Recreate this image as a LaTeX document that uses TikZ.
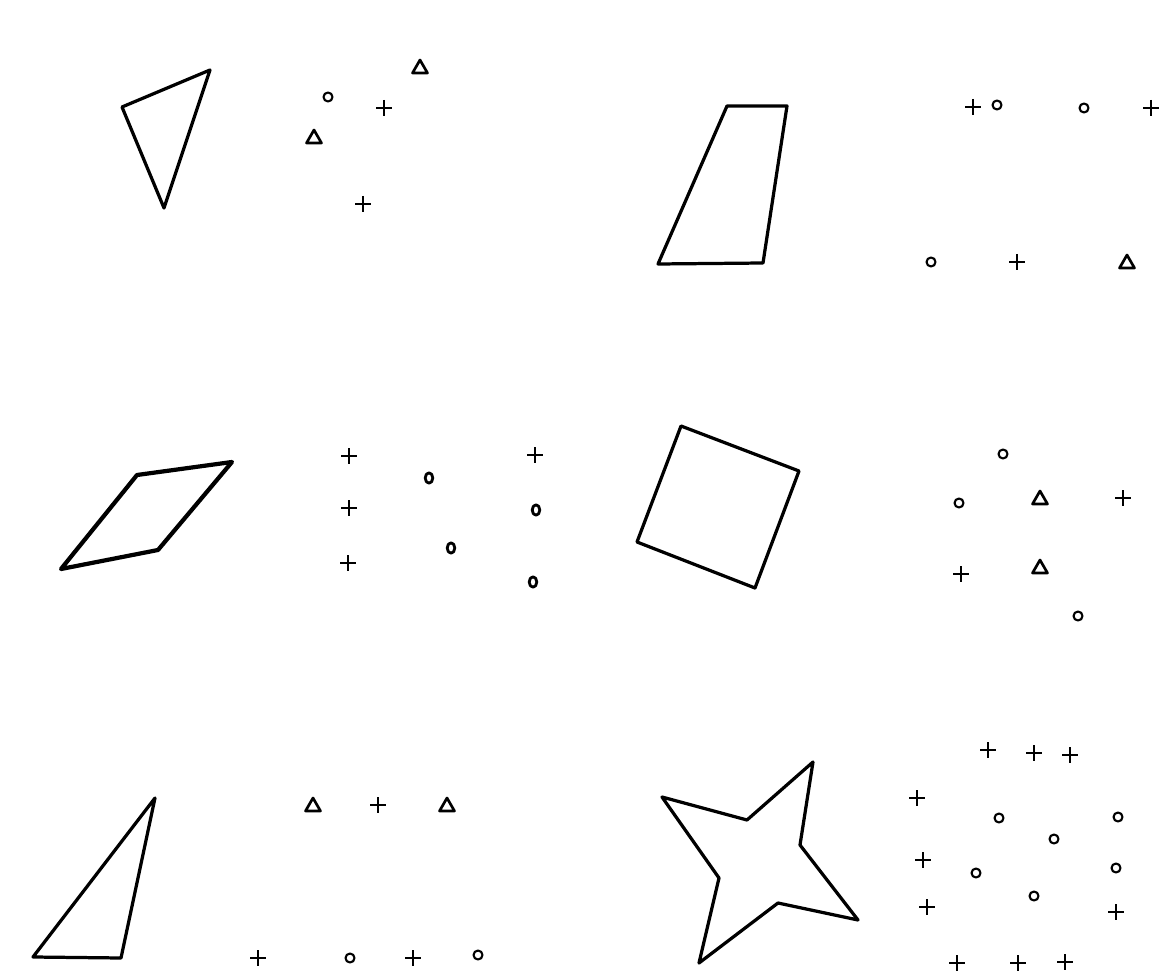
\documentclass[tikz,border=0pt]{standalone}
\begin{document}
\begin{tikzpicture}[x=0.025cm,y=-0.025cm,line join=round]
  \tikzset{fig/.style={line width=2.3pt},mk/.style={line width=1.5pt}}
  \useasboundingbox (0,0) rectangle (1165,978);
  % figures
  \draw[fig] (122,107)--(210,70)--(164,208)--cycle;
  \draw[fig] (727,106)--(787,106)--(763,263)--(658,264)--cycle;
  \draw[line width=3pt] (137,475)--(232,462)--(158,550)--(61,569)--cycle;
  \draw[fig] (681,426)--(799,471)--(755,588)--(637,542)--cycle;
  \draw[fig] (155,798)--(121,958)--(33,957)--cycle;
  \draw[fig] (813,762)--(800,845)--(858,920)--(778,903)--(699,963)
    --(719,878)--(662,797)--(747,820)--cycle;
  % crosses
  \foreach \x/\y in {384/108,363/204,973/107,1151/108,1017/262,
    349/456,535/455,349/508,348/563,1123/498,961/574,
    378/805,258/958,413/958,
    988/750,1034/753,1070/755,917/798,923/860,927/907,1116/912,
    957/963,1018/963,1065/962}
  {
    \draw[mk] (\x-8,\y)--++(16,0) (\x,\y-8)--++(0,16);
  }
  % circles
  \foreach \x/\y in {328/97,997/105,1084/108,931/262,
    1003/454,959/503,1078/616,350/958,478/955,
    999/818,1118/817,1054/839,976/873,1116/868,1034/896}
  {
    \draw[mk] (\x,\y) circle[radius=4.5];
  }
  \foreach \x/\y in {429/478,536/510,451/548,533/582}
  {
    \draw[line width=2pt] (\x,\y) ellipse[x radius=3.8,y radius=5.2];
  }
  % triangles
  \foreach \x/\y in {420/67,314/137,1127/262,1040/498,1040/567,313/805,447/805}
  {
    \draw[line width=1.9pt] (\x-7.5,\y+6)--++(15,0)--++(-7.5,-13)--cycle;
  }
\end{tikzpicture}
\end{document}
